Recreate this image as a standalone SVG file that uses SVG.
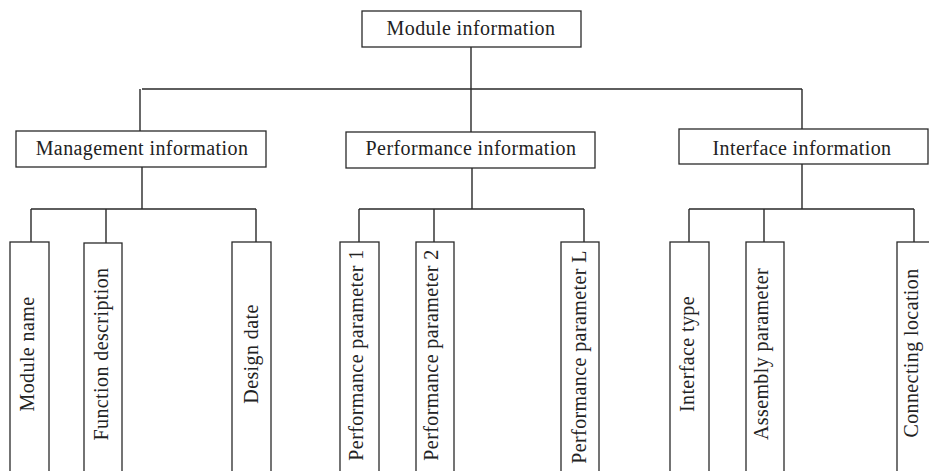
<svg xmlns="http://www.w3.org/2000/svg" width="929" height="471" viewBox="0 0 929 471">
<style>
.box{fill:#fff;stroke:#2a2a2a;stroke-width:1.3}
.ln{fill:none;stroke:#2a2a2a;stroke-width:1.4}
text{font-family:"Liberation Serif","Times New Roman",serif;font-size:20px;letter-spacing:0.4px;fill:#222;text-anchor:middle}
</style>
<rect width="929" height="471" fill="#fff"/>
<g id="connectors">
<path class="ln" d="M471 47V132M142 89H802M140 89V131M802 89V129"/>
<path class="ln" d="M142 167V209M31 209H256M31 209V242M106 209V243M256 209V242"/>
<path class="ln" d="M472 168V209M359 209H584M359 209V242M434 209V242M584 209V242"/>
<path class="ln" d="M802 164V209M689 209H914M689 209V242M764 209V242M914 209V242"/>
</g>
<g id="module-information"><rect class="box" x="362" y="11" width="219" height="36"/><text x="471" y="35">Module information</text></g>
<g id="management-information"><rect class="box" x="16" y="131" width="250" height="36"/><text x="142" y="155">Management information</text></g>
<g id="performance-information"><rect class="box" x="346" y="132" width="249" height="36"/><text x="471" y="155">Performance information</text></g>
<g id="interface-information"><rect class="box" x="679" y="129" width="249" height="35"/><text x="802" y="155">Interface information</text></g>
<g id="module-name"><rect class="box" x="10" y="242" width="39" height="240"/><text transform="translate(33.5,354) rotate(-90)">Module name</text></g>
<g id="function-description"><rect class="box" x="84" y="243" width="38" height="240"/><text transform="translate(107.5,354) rotate(-90)">Function description</text></g>
<g id="design-date"><rect class="box" x="232" y="242" width="39" height="240"/><text transform="translate(257.5,354) rotate(-90)">Design date</text></g>
<g id="performance-parameter-1"><rect class="box" x="340" y="242" width="39" height="240"/><text transform="translate(362.5,355) rotate(-90)">Performance parameter 1</text></g>
<g id="performance-parameter-2"><rect class="box" x="416" y="242" width="38" height="240"/><text transform="translate(437.5,355) rotate(-90)">Performance parameter 2</text></g>
<g id="performance-parameter-L"><rect class="box" x="561" y="242" width="38" height="240"/><text transform="translate(585.5,357) rotate(-90)">Performance parameter L</text></g>
<g id="interface-type"><rect class="box" x="670" y="242" width="39" height="240"/><text transform="translate(693.5,354) rotate(-90)">Interface type</text></g>
<g id="assembly-parameter"><rect class="box" x="746" y="242" width="38" height="240"/><text transform="translate(767.5,354) rotate(-90)">Assembly parameter</text></g>
<g id="connecting-location"><rect class="box" x="897" y="242" width="39" height="240"/><text transform="translate(917.5,353) rotate(-90)">Connecting location</text></g>
</svg>
